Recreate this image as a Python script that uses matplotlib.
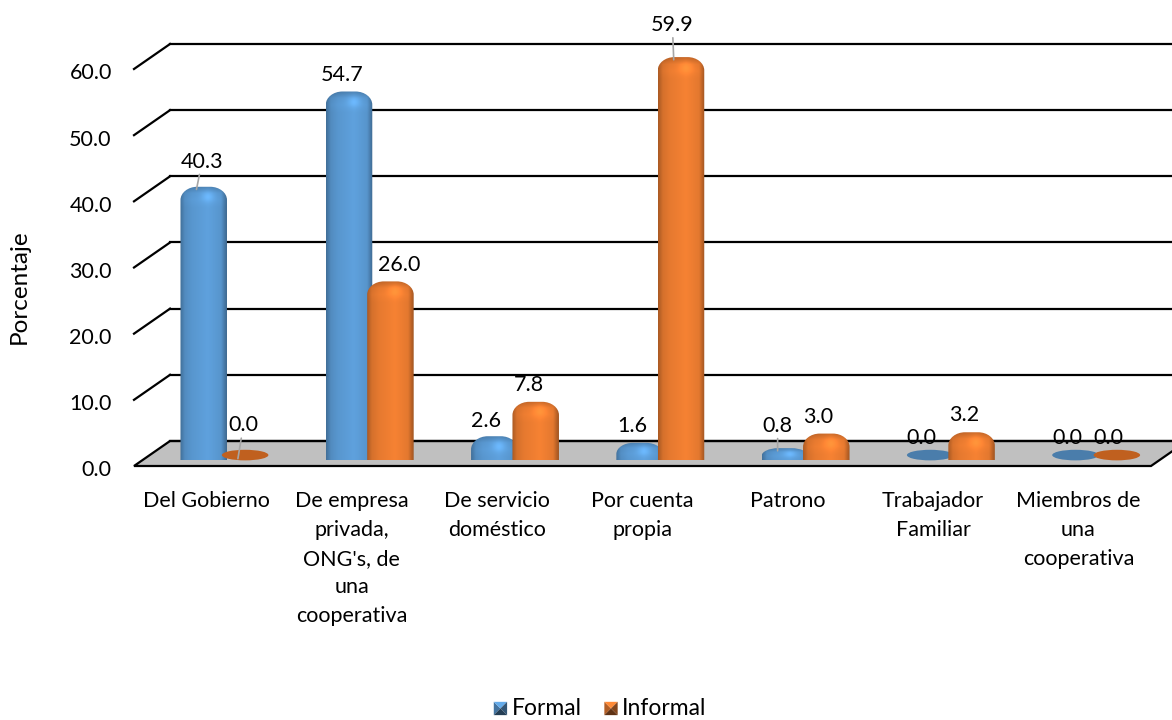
import numpy as np
import matplotlib
matplotlib.use("Agg")
import matplotlib.pyplot as plt
from matplotlib.path import Path
from matplotlib.patches import PathPatch, Polygon, Ellipse, Patch
from matplotlib.legend_handler import HandlerBase
from matplotlib.transforms import ScaledTranslation

plt.rcParams['font.family'] = ['Lato', 'DejaVu Sans']

categories = ["Del Gobierno", "De empresa\nprivada,\nONG's, de\nuna\ncooperativa",
              "De servicio\ndoméstico", "Por cuenta\npropia", "Patrono",
              "Trabajador\nFamiliar", "Miembros de\nuna\ncooperativa"]
formal = [40.3, 54.7, 2.6, 1.6, 0.8, 0.0, 0.0]
informal = [0.0, 26.0, 7.8, 59.9, 3.0, 3.2, 0.0]
yticks = [0, 10, 20, 30, 40, 50, 60]

# label offsets in points, from the top of each bar
formal_offsets = [(4, 20), (-5, 14), (-6, 13), (-5, 14), (0, 18), (-6, 15), (-6, 15)]
informal_offsets = [(4, 24), (6, 14), (-5, 14), (-1, 25), (-6, 14), (-5, 14), (-6, 15)]
with_leader = {(0, 0), (0, 1), (3, 1), (4, 0)}

# 3d look of the chart
depth_x = 0.248
depth_y = 3.78
bar_w = 0.32
bar_base = 0.9
bar_over = 1.9

blue = np.array([0x5b, 0x9b, 0xd5]) / 255
orange = np.array([0xed, 0x7d, 0x31]) / 255
flat_blue = "#4a7dab"
flat_orange = "#c0601f"


def bar_path(x0, x1, y0, y1):
    rx = 0.115
    ry = min(2.0, (y1 - y0) * 0.65)
    k = 0.45
    verts = [(x0, y0), (x0, y1 - ry),
             (x0, y1 - ry * k), (x0 + rx * k, y1), (x0 + rx, y1),
             (x1 - rx, y1),
             (x1 - rx * k, y1), (x1, y1 - ry * k), (x1, y1 - ry),
             (x1, y0), (x0, y0)]
    codes = [Path.MOVETO, Path.LINETO,
             Path.CURVE4, Path.CURVE4, Path.CURVE4,
             Path.LINETO,
             Path.CURVE4, Path.CURVE4, Path.CURVE4,
             Path.LINETO, Path.CLOSEPOLY]
    return Path(verts, codes), ry


def draw_bar(ax, x0, value, color, flat, z):
    x1 = x0 + bar_w
    if value == 0:
        ax.add_patch(Ellipse((x0 + bar_w / 2, bar_base + 0.75), bar_w, 1.6, color=flat, lw=0, zorder=z))
        return
    y0, y1 = bar_base, value + bar_over
    path, ry = bar_path(x0, x1, y0, y1)
    patch = PathPatch(path, transform=ax.transData, facecolor="none", edgecolor="none")
    # horizontal cylinder shading plus a cap on top
    t = np.linspace(0, 1, 60)
    h = np.interp(t, [0, 0.1, 0.25, 0.6, 0.88, 1], [0.72, 0.9, 0.97, 1.04, 0.96, 0.68])
    ny = 300
    ys = np.linspace(y1, y0, ny)
    from_top = y1 - ys
    v = np.interp(from_top, [0, ry * 0.5, ry, ry * 1.6], [0.82, 1.0, 1.03, 1.0])
    shade = np.outer(v, h)
    glow = np.exp(-((t - 0.6) / 0.14) ** 2)[None, :] * np.exp(-((from_top - ry * 0.75) / (ry * 0.4)) ** 2)[:, None]
    shade = shade + 0.14 * glow
    img = np.clip(shade[..., None] * color, 0, 1)
    im = ax.imshow(img, extent=(x0, x1, y0, y1), aspect="auto", interpolation="bilinear", zorder=z)
    im.set_clip_path(patch)
    im.set_clip_box(ax.figure.bbox)


class BevelHandler(HandlerBase):
    def create_artists(self, legend, orig, xd, yd, w, h, fontsize, trans):
        c = np.array(matplotlib.colors.to_rgb(orig.get_facecolor()))
        s = h * 0.83
        x0, y0 = -xd + (w - s), -yd - 0.02 * h
        a, b, cx, cy = (x0, y0), (x0 + s, y0), x0 + s * 0.5, y0 + s * 0.5
        d, e = (x0 + s, y0 + s), (x0, y0 + s)
        mid = (cx, cy)
        parts = [((a, mid, e), 0.75), ((e, mid, d), 1.1), ((d, mid, b), 0.55), ((b, mid, a), 0.4)]
        out = []
        for pts, f in parts:
            out.append(Polygon(pts, closed=True, facecolor=np.clip(c * f, 0, 1), edgecolor="none", transform=trans))
        return out


fig = plt.figure(figsize=(11.72, 7.2), dpi=100)
ax = fig.add_axes([134 / 1172, (720 - 466) / 720, 1017 / 1172, 397 / 720])
ax.patch.set_alpha(0)

n = len(categories)

# back wall lines and the short slanted pieces at the left
for v in yticks:
    ax.plot([depth_x, n + depth_x], [v + depth_y, v + depth_y], color="black", lw=1.6, zorder=2, clip_on=False)
    if v > 0:
        ax.plot([0, depth_x], [v, v + depth_y], color="black", lw=1.6, zorder=2, clip_on=False)

# floor
ax.add_patch(Polygon([(0, 0), (n, 0), (n + depth_x, depth_y), (depth_x, depth_y)], closed=True,
                     facecolor="#c0c0c0", edgecolor="black", lw=1.6, zorder=1.5, clip_on=False))

z = 3
for i in range(n):
    draw_bar(ax, i + 0.32, formal[i], blue, flat_blue, z)
    draw_bar(ax, i + 0.605, informal[i], orange, flat_orange, z + 1)
    z += 2

# data labels
for s, (vals, offs, left) in enumerate([(formal, formal_offsets, 0.32), (informal, informal_offsets, 0.605)]):
    for i, v in enumerate(vals):
        xc = i + left + bar_w / 2
        yt = v + bar_over - 0.4 if v > 0 else bar_base + 0.2
        props = None
        if (i, s) in with_leader:
            props = dict(arrowstyle="-", color="#a6a6a6", lw=1.2, shrinkA=0, shrinkB=0)
            xc -= 0.05
        ax.annotate(f"{v:.1f}", xy=(xc, yt), xycoords="data",
                    xytext=offs[i], textcoords="offset points", ha="center", va="center",
                    fontsize=15.5, color="black", arrowprops=props, annotation_clip=False, zorder=40)

ax.set_xlim(0, n)
ax.set_ylim(0, 60)
ax.set_xticks(np.arange(n) + 0.5)
ax.set_xticklabels(categories, fontsize=15.5, linespacing=1.55)
ax.set_yticks(yticks)
ax.set_yticklabels([f"{v:.1f}" for v in yticks], fontsize=15.5)
ax.tick_params(axis="x", length=0, pad=18)
ax.tick_params(axis="y", length=0, pad=16)
for lbl in ax.get_yticklabels():
    lbl.set_transform(lbl.get_transform() + ScaledTranslation(0, -2.5 / 100, fig.dpi_scale_trans))
for sp in ax.spines.values():
    sp.set_visible(False)

ax.set_ylabel("Porcentaje", fontsize=17.5)
ax.yaxis.set_label_coords((30 - 134) / 1017, (466 - 287) / 397)

handles = [Patch(facecolor=blue, label="Formal"), Patch(facecolor=orange, label="Informal")]
fig.legend(handles=handles, loc="lower center", bbox_to_anchor=(0.509, -0.027), ncol=2, frameon=False,
           fontsize=16.5, handler_map={Patch: BevelHandler()}, handlelength=0.9, handletextpad=0.2,
           columnspacing=0.67)

plt.savefig("out.png", dpi=100)
